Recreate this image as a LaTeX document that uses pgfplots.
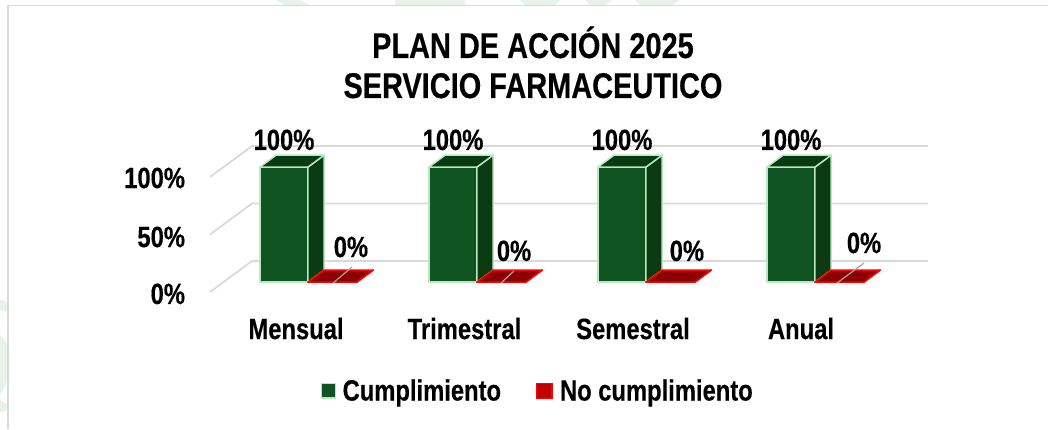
\documentclass[border=0pt]{standalone}
\usepackage{fontspec}
\setmainfont{Liberation Sans}[FakeStretch=0.81,BoldFeatures={FakeBold=0.35}]
\usepackage{pgfplots}
\pgfplotsset{compat=1.18}
\definecolor{gridc}{HTML}{D9D9D9}
\definecolor{gfront}{HTML}{0F5420}
\definecolor{gside}{HTML}{0A3A12}
\definecolor{gedge}{HTML}{B9E8C0}
\definecolor{rface}{HTML}{8B0000}
\definecolor{rleg}{HTML}{C00000}
\definecolor{redge}{HTML}{FF0000}
\definecolor{leader}{HTML}{A6A6A6}
\definecolor{wm}{HTML}{E8F2EA}
\tikzset{lab/.style={font=\fontsize{22}{26}\selectfont\bfseries,text=black,inner sep=0pt,outer sep=0pt},
  ttl/.style={font=\fontsize{26.8}{30}\selectfont\bfseries,text=black,inner sep=0pt,outer sep=0pt}}
% one 3D box: x position, value, front colour, top colour, side colour, edge colour, width
\newcommand{\BoxThreeD}[7]{%
  \pgfmathsetmacro{\xa}{#1}\pgfmathsetmacro{\xb}{#1+#7}%
  \def\ya{0.32}\def\yb{0.707}%
  \addplot3[forget plot,no markers,draw=#6,line width=1.1pt,line join=round,fill=#3] coordinates {(\xa,\ya,0) (\xb,\ya,0) (\xb,\ya,#2) (\xa,\ya,#2)} -- cycle;
  \addplot3[forget plot,no markers,draw=#6,line width=1.1pt,line join=round,fill=#5] coordinates {(\xb,\ya,0) (\xb,\yb,0) (\xb,\yb,#2) (\xb,\ya,#2)} -- cycle;
  \addplot3[forget plot,no markers,draw=#6,line width=1.1pt,line join=round,fill=#4] coordinates {(\xa,\ya,#2) (\xb,\ya,#2) (\xb,\yb,#2) (\xa,\yb,#2)} -- cycle;
}
\newcommand{\GridAt}[1]{%
  \addplot3[forget plot,no markers,draw=gridc,line width=1.3pt] coordinates {(0,0,#1) (0,1,#1) (4,1,#1)};
}
\newcommand{\Leader}[4]{%
  \addplot3[forget plot,no markers,draw=leader,line width=0.9pt] coordinates {(#1,0,#2) (#3,0,#4)};
}
\begin{document}
\begin{tikzpicture}
\path[use as bounding box] (0,0) rectangle (786pt,-321.75pt);
\begin{scope}[x=0.75pt,y=-0.75pt]
  \fill[white] (0,0) rectangle (1048,429);
  \fill[wm] (276,0) -- (300,0) -- (310,5) -- (285,5) -- cycle;
  \fill[wm] (395,0) -- (465,0) -- (465,5) -- (395,5) -- cycle;
  \fill[wm] (520,0) -- (560,0) -- (555,5) -- (525,5) -- cycle;
  \fill[wm] (585,0) -- (612,0) -- (606,5) -- (590,5) -- cycle;
  \fill[wm] (635,0) -- (680,0) -- (672,5) -- (640,5) -- cycle;
  \fill[wm] (0,300) -- (8,302) -- (8,312) -- (0,310) -- cycle;
  \fill[wm] (0,335) -- (8,345) -- (8,380) -- (0,395) -- cycle;
  \fill[wm] (0,400) -- (8,405) -- (8,410) -- (0,412) -- cycle;
  \draw[gridc,line width=1.1pt] (8,429) -- (8,5.5) -- (1048,5.5);
\end{scope}
\begin{axis}[
  at={(157.5pt,-219pt)}, anchor=origin,
  x={(126.75pt,0pt)}, y={(31.5pt,23.25pt)}, z={(0pt,0.8625pt)},
  xmin=0,xmax=4,ymin=0,ymax=1,zmin=0,zmax=100,
  hide axis, clip=false,
  legend columns=2,
  legend style={draw=none,fill=none,at={(axis cs:1.942,0,-86)},anchor=center,
    font=\fontsize{22}{26}\selectfont\bfseries,
    /tikz/every even column/.append style={column sep=24pt}},
]
\GridAt{0}\GridAt{50}\GridAt{100}
\BoxThreeD{0.216}{100}{gfront}{gside}{gside}{gedge}{0.284}
\BoxThreeD{1.216}{100}{gfront}{gside}{gside}{gedge}{0.284}
\BoxThreeD{2.216}{100}{gfront}{gside}{gside}{gedge}{0.284}
\BoxThreeD{3.216}{100}{gfront}{gside}{gside}{gedge}{0.284}
\BoxThreeD{0.5}{0}{rface}{rface}{rface}{redge}{0.29}
\BoxThreeD{1.5}{0}{rface}{rface}{rface}{redge}{0.29}
\BoxThreeD{2.5}{0}{rface}{rface}{rface}{redge}{0.29}
\BoxThreeD{3.5}{0}{rface}{rface}{rface}{redge}{0.29}
\Leader{0.728}{7.8}{0.840}{21.7}
\Leader{1.722}{7.8}{1.799}{18.3}
\Leader{3.710}{7.8}{3.870}{25.2}
\addlegendimage{legend image code/.code={\draw[draw=gedge,line width=1.1pt,fill=gfront] (0pt,-5.4pt) rectangle (10.5pt,5.4pt); \path (13.5pt,0pt);}}
\addlegendentry{Cumplimiento}
\addlegendimage{legend image code/.code={\draw[draw=redge,line width=1.1pt,fill=rleg] (0pt,-5.6pt) rectangle (11.5pt,5.6pt); \path (15.5pt,0pt);}}
\addlegendentry{No cumplimiento}
% title
\node[ttl,anchor=base] at (axis cs:1.911,0,203.5) {PLAN DE ACCIÓN 2025};
\node[ttl,anchor=base] at (axis cs:1.911,0,168.7) {SERVICIO FARMACEUTICO};
% value axis
\node[lab,anchor=base east] at (axis cs:-0.148,0,90.4) {100\%};
\node[lab,anchor=base east] at (axis cs:-0.148,0,39.1) {50\%};
\node[lab,anchor=base east] at (axis cs:-0.148,0,-10.4) {0\%};
% categories
\node[lab,anchor=base] at (axis cs:0.509,0,-40.9) {Mensual};
\node[lab,anchor=base] at (axis cs:1.506,0,-40.9) {Trimestral};
\node[lab,anchor=base] at (axis cs:2.503,0,-40.9) {Semestral};
\node[lab,anchor=base] at (axis cs:3.497,0,-40.9) {Anual};
% value labels
\node[lab,anchor=base] at (axis cs:0.438,0,123.5) {100\%};
\node[lab,anchor=base] at (axis cs:1.438,0,123.5) {100\%};
\node[lab,anchor=base] at (axis cs:2.438,0,123.5) {100\%};
\node[lab,anchor=base] at (axis cs:3.438,0,123.5) {100\%};
\node[lab,anchor=base] at (axis cs:0.834,0,30.4) {0\%};
\node[lab,anchor=base] at (axis cs:1.799,0,27) {0\%};
\node[lab,anchor=base] at (axis cs:2.822,0,27) {0\%};
\node[lab,anchor=base] at (axis cs:3.870,0,33.9) {0\%};
\end{axis}
\end{tikzpicture}
\end{document}
